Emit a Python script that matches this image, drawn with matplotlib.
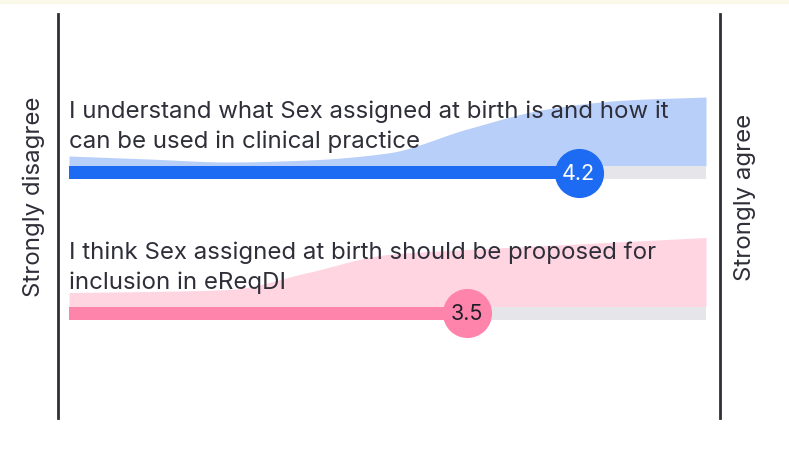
import numpy as np
import matplotlib.pyplot as plt

# survey statements (already wrapped as in the picture)
labels = [
    ["I understand what Sex assigned at birth is and how it",
     "can be used in clinical practice"],
    ["I think Sex assigned at birth should be proposed for",
     "inclusion in eReqDI"],
]
means = [4.2, 3.5]
# distribution shape (relative height) at scale points 1, 1.5, ..., 5
scale_pts = [1, 1.5, 2, 2.5, 3, 3.5, 4, 4.5, 5]
dist_1 = [10, 7, 4, 6, 13, 37, 57, 66, 69]
dist_2 = [14, 15, 17, 34, 52, 57, 61, 65, 69]
dists = [dist_1, dist_2]

bar_col = ['#1c6bf2', '#ff84ab']
area_col = ['#b8cffa', '#ffd5e2']
num_col = ['white', '#1e1e28']
txt_col = '#2f2f3a'

plt.rcParams['font.family'] = ['Inter', 'DejaVu Sans']


def pchip(x, y, xs):
    # monotone cubic used only to draw the outline smoothly
    x = np.asarray(x, float); y = np.asarray(y, float)
    h = np.diff(x); d = np.diff(y) / h
    m = np.zeros_like(y)
    for k in range(1, len(y) - 1):
        if d[k-1] * d[k] > 0:
            w1 = 2*h[k] + h[k-1]; w2 = h[k] + 2*h[k-1]
            m[k] = (w1 + w2) / (w1/d[k-1] + w2/d[k])
    m[0] = d[0]; m[-1] = d[-1]
    i = np.clip(np.searchsorted(x, xs) - 1, 0, len(x) - 2)
    t = (xs - x[i]) / h[i]
    h00 = 2*t**3 - 3*t**2 + 1; h10 = t**3 - 2*t**2 + t
    h01 = -2*t**3 + 3*t**2; h11 = t**3 - t**2
    return h00*y[i] + h10*h[i]*m[i] + h01*y[i+1] + h11*h[i]*m[i+1]


W, H = 789, 454
fig = plt.figure(figsize=(W/100, H/100), dpi=100)
ax = fig.add_axes([0, 0, 1, 1])
px = 637 / 4.0
ax.set_xlim(1 - 69/px, 5 + (W - 706)/px)
ax.set_ylim(H, 0)
ax.axis('off')

# pale strip at top
fig.patches.append(plt.Rectangle((0, 1 - 3/H), 1, 3/H, transform=fig.transFigure,
                                 color='#faf8e8', zorder=0))

# end lines
xl = 1 - 11/px
xr = 5 + 14/px
ax.plot([xl, xl], [14, 418], color='#2e3036', lw=2)
ax.plot([xr, xr], [14, 418], color='#2e3036', lw=2)
ax.text(xl - 24/px, 197, 'Strongly disagree', rotation=90, ha='center', va='center',
        fontsize=17.3, color=txt_col)
ax.text(xr + 25/px, 197, 'Strongly agree', rotation=90, ha='center', va='center',
        fontsize=17.3, color=txt_col)

bar_y = [172.5, 313]
bar_h = 13
xs = np.linspace(1, 5, 300)
for i in range(2):
    base = bar_y[i] - bar_h/2
    ys = pchip(scale_pts, dists[i], xs)
    ax.fill_between(xs, base, base - ys, color=area_col[i], lw=0, zorder=1)
    ax.barh(bar_y[i], 4, left=1, height=bar_h, color='#e6e6ea', zorder=2)
    ax.barh(bar_y[i], means[i] - 1, left=1, height=bar_h, color=bar_col[i], zorder=3)
    ax.scatter([means[i]], [bar_y[i]], s=1250, color=bar_col[i], zorder=4, lw=0)
    ax.text(means[i], bar_y[i] + 1, f'{means[i]:.1f}', ha='center', va='center',
            fontsize=15.5, color=num_col[i], zorder=5)
    for j, line in enumerate(labels[i]):
        ax.text(1, base - 48 + j*30, line, ha='left', va='baseline',
                fontsize=17.3, color=txt_col, zorder=5)

fig.savefig('out.png', dpi=100, facecolor='white')
